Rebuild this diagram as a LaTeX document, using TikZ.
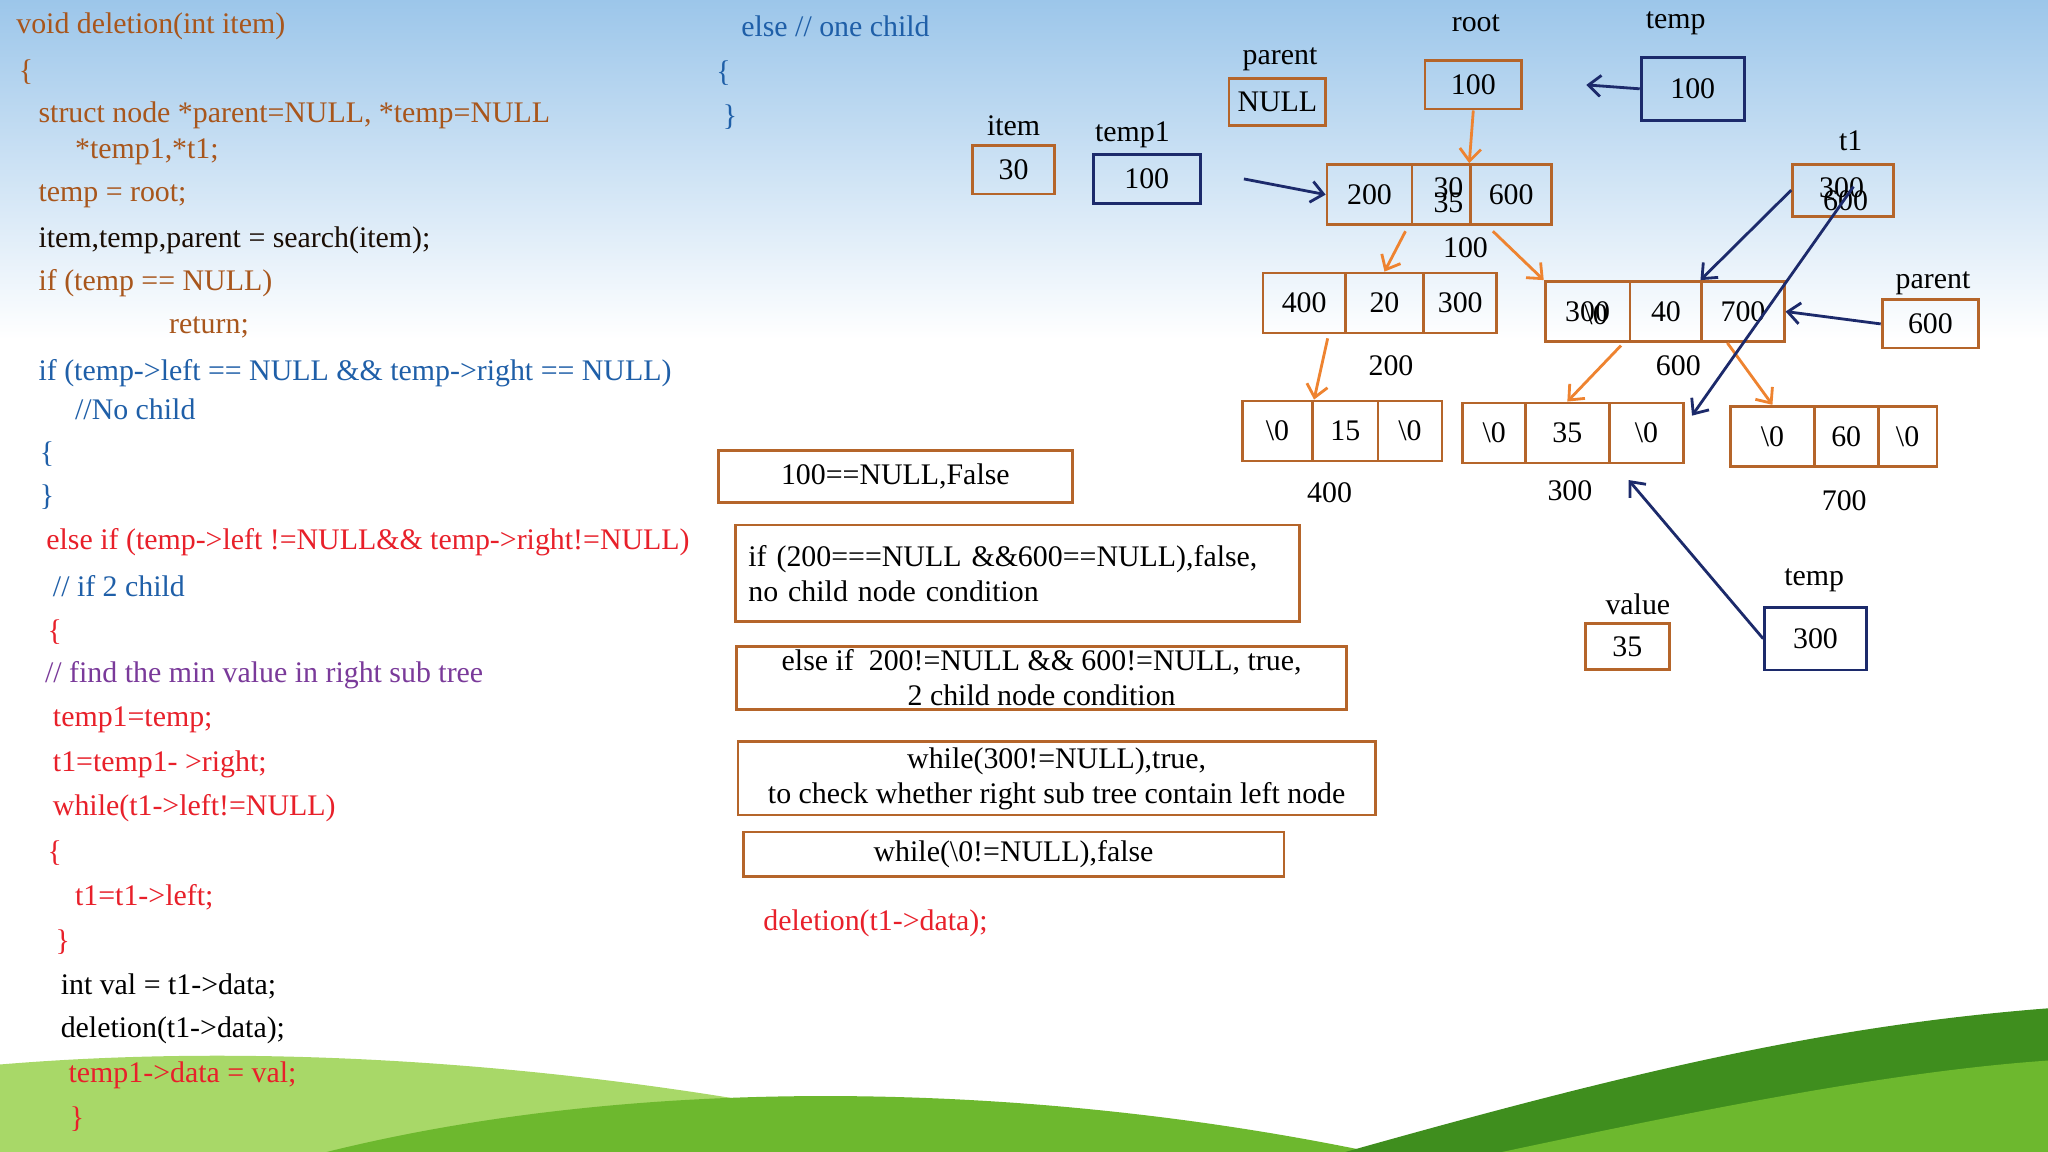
\documentclass[tikz,border=0pt]{standalone}
\usepackage{fontspec}
\setmainfont{Liberation Serif}
\usetikzlibrary{arrows.meta,positioning}
\definecolor{boxbrown}{HTML}{B5652A}
\definecolor{arrorange}{HTML}{EE8330}
\definecolor{navy}{HTML}{1C2A6B}
\definecolor{codebrown}{HTML}{A8561C}
\definecolor{codeblue}{HTML}{1F5FA8}
\definecolor{codered}{HTML}{E8202A}
\definecolor{codepurple}{HTML}{7A3A9A}
\definecolor{skyblue}{HTML}{9CC6EA}
\definecolor{hillgreen}{HTML}{6DB82E}
\definecolor{hilllight}{HTML}{A8D868}
\definecolor{hilldark}{HTML}{3F8E1E}
\begin{document}
\begin{tikzpicture}[x=0.01306cm,y=-0.01306cm,font=\fontsize{8.5}{10}\selectfont]
    \tikzstyle{code} = [anchor=west, inner sep=0pt]
    \tikzstyle{box} = [rectangle, draw=boxbrown, thick, inner sep=0pt]
    \tikzstyle{cell} = [box, minimum height=0.6cm]
    \tikzstyle{lbl} = [inner sep=0pt]
    \tikzstyle{oline} = [draw=arrorange, thick, -{Straight Barb[length=3.5pt,width=6pt]}]
    \tikzstyle{nline} = [draw=navy, thick, -{Straight Barb[length=3.5pt,width=6pt]}]

    % background
    \useasboundingbox (0,0) rectangle (1568,882);
    \fill[white] (0,0) rectangle (1568,882);
    \shade[top color=skyblue, bottom color=white] (0,0) rectangle (1568,260);
    \fill[hilllight] (0,815) .. controls (300,790) and (600,840) .. (760,882) -- (0,882) -- cycle;
    \fill[hillgreen] (250,882) .. controls (500,820) and (800,830) .. (1050,882) -- cycle;
    \fill[hilldark] (1030,882) .. controls (1250,820) and (1400,785) .. (1568,772) -- (1568,882) -- cycle;
    \fill[hillgreen] (1150,882) .. controls (1300,850) and (1450,820) .. (1568,812) -- (1568,882) -- cycle;

    % code listing
    \node[code, codebrown] (c1) at (12,20) {void deletion(int item)};
    \node[code, codebrown] (c2) at (14,55) {\{};
    \node[code, codebrown] (c3) at (29,88) {struct node *parent=NULL, *temp=NULL};
    \node[code, codebrown] (c4) at (57,116) {*temp1,*t1;};
    \node[code, codebrown] (c5) at (29,150) {temp = root;};
    \node[code, black!85!codebrown] (c6) at (29,184) {item,temp,parent = search(item);};
    \node[code, codebrown] (c7) at (29,217) {if (temp == NULL)};
    \node[code, codebrown] (c8) at (129,251) {return;};
    \node[code, codeblue] (c9) at (29,286) {if (temp->left == NULL \&\& temp->right == NULL)};
    \node[code, codeblue] (c10) at (57,313) {//No child};
    \node[code, codeblue] (c11) at (30,348) {\{};
    \node[code, codeblue] (c12) at (30,381) {\}};
    \node[code, codered] (c13) at (35,415) {else if (temp->left !=NULL\&\& temp->right!=NULL)};
    \node[code, codeblue] (c14) at (40,449) {// if 2 child};
    \node[code, codered] (c15) at (36,484) {\{};
    \node[code, codepurple] (c16) at (34,517) {// find the min value in right sub tree};
    \node[code, codered] (c17) at (40,551) {temp1=temp;};
    \node[code, codered] (c18) at (40,585) {t1=temp1- >right;};
    \node[code, codered] (c19) at (40,619) {while(t1->left!=NULL)};
    \node[code, codered] (c20) at (36,653) {\{};
    \node[code, codered] (c21) at (57,687) {t1=t1->left;};
    \node[code, codered] (c22) at (42,721) {\}};
    \node[code, black] (c23) at (46,755) {int val = t1->data;};
    \node[code, black] (c24) at (46,789) {deletion(t1->data);};
    \node[code, codered] (c25) at (52,823) {temp1->data = val;};
    \node[code, codered] (c26) at (53,857) {\}};
    \node[code, codeblue] (c27) at (567,20) {else // one child};
    \node[code, codeblue] (c28) at (548,56) {\{};
    \node[code, codeblue] (c29) at (553,90) {\}};
    \node[code, codered] (c30) at (584,707) {deletion(t1->data);};

    % condition boxes
    \node[box, minimum width=271*0.01306cm, minimum height=40*0.01306cm] (b1) at (685.5,365) {100==NULL,False};
    \node[box, minimum width=432*0.01306cm, minimum height=74*0.01306cm, align=left, text width=412*0.01306cm] (b2) at (779,439) {if (200===NULL \&\&600==NULL),false,\\no child node condition};
    \node[box, minimum width=467*0.01306cm, minimum height=48*0.01306cm, align=center] (b3) at (797.5,519) {else if\ \ 200!=NULL \&\& 600!=NULL, true,\\2 child node condition};
    \node[box, minimum width=488*0.01306cm, minimum height=56*0.01306cm, align=center] (b4) at (809,596) {while(300!=NULL),true,\\to check whether right sub tree contain left node};
    \node[box, minimum width=414*0.01306cm, minimum height=34*0.01306cm] (b5) at (776,654) {while(\textbackslash 0!=NULL),false};

    % pointer variables
    \node[lbl] (lparent) at (980,45) {parent};
    \node[box, minimum width=74*0.01306cm, minimum height=36*0.01306cm] (parentbox) at (978,78) {NULL};
    \node[lbl] (lroot) at (1130,18) {root};
    \node[box, minimum width=74*0.01306cm, minimum height=37*0.01306cm] (rootbox) at (1128,65) {100};
    \node[lbl] (ltemp) at (1283,18) {temp};
    \node[box, minimum width=79*0.01306cm, minimum height=48*0.01306cm, draw=navy] (tempbox) at (1296,68) {100};
    \node[lbl] (litem) at (776,96) {item};
    \node[box, minimum width=63*0.01306cm, minimum height=37*0.01306cm] (itembox) at (776,130) {30};
    \node[lbl] (ltempone) at (867,103) {temp1};
    \node[box, minimum width=82*0.01306cm, minimum height=38*0.01306cm, draw=navy] (temponebox) at (878,137) {100};
    \node[lbl] (ltone) at (1417,108) {t1};
    \node[box, minimum width=77*0.01306cm, minimum height=40*0.01306cm] (tonebox) at (1411,146) {};
    \node[lbl] at (1410,144) {300};
    \node[lbl] at (1413,154) {600};
    \draw[black, thin] (1398,151) -- (1404,152);
    \node[lbl] (lparenttwo) at (1480,217) {parent};
    \node[box, minimum width=74*0.01306cm, minimum height=37*0.01306cm] (parenttwobox) at (1478,248) {600};
    \node[lbl] (lvalue) at (1254,463) {value};
    \node[box, minimum width=64*0.01306cm, minimum height=35*0.01306cm] (valuebox) at (1246,495) {35};
    \node[lbl] (ltemptwo) at (1389,444) {temp};
    \node[box, minimum width=78*0.01306cm, minimum height=48*0.01306cm, draw=navy] (temptwobox) at (1390,489) {300};

    % tree nodes
    \node[cell, minimum width=65*0.01306cm] (nAl) at (1048.5,149) {200};
    \node[cell, minimum width=45*0.01306cm] (nAm) at (1103.5,149) {};
    \node[lbl] at (1109,144) {30};
    \node[lbl] at (1109,155) {35};
    \node[cell, minimum width=62*0.01306cm] (nAr) at (1157,149) {600};
    \node[lbl] (lnA) at (1122,190) {100};

    \node[cell, minimum width=63*0.01306cm] (nBl) at (998.5,232) {400};
    \node[cell, minimum width=60*0.01306cm] (nBm) at (1060,232) {20};
    \node[cell, minimum width=56*0.01306cm] (nBr) at (1118,232) {300};
    \node[lbl] (lnB) at (1065,280) {200};

    \node[cell, minimum width=65*0.01306cm] (nCl) at (1215.5,238.5) {300};
    \node[lbl] at (1222,241) {\textbackslash 0};
    \node[cell, minimum width=55*0.01306cm] (nCm) at (1275.5,238.5) {40};
    \node[cell, minimum width=63*0.01306cm] (nCr) at (1334.5,238.5) {700};
    \node[lbl] (lnC) at (1285,280) {600};

    \node[cell, minimum width=54*0.01306cm] (nDl) at (978,330) {\textbackslash 0};
    \node[cell, minimum width=50*0.01306cm] (nDm) at (1030,330) {15};
    \node[cell, minimum width=49*0.01306cm] (nDr) at (1079.5,330) {\textbackslash 0};
    \node[lbl] (lnD) at (1018,377) {400};

    \node[cell, minimum width=48*0.01306cm] (nEl) at (1144,331.5) {\textbackslash 0};
    \node[cell, minimum width=64*0.01306cm] (nEm) at (1200,331.5) {35};
    \node[cell, minimum width=57*0.01306cm] (nEr) at (1260.5,331.5) {\textbackslash 0};
    \node[lbl] (lnE) at (1202,376) {300};

    \node[cell, minimum width=64*0.01306cm] (nFl) at (1357,334) {\textbackslash 0};
    \node[cell, minimum width=49*0.01306cm] (nFm) at (1413.5,334) {60};
    \node[cell, minimum width=45*0.01306cm] (nFr) at (1460.5,334) {\textbackslash 0};
    \node[lbl] (lnF) at (1412,383) {700};

    % links
    \draw[oline] (rootbox.south) -- (nAr.north west);
    \draw[oline] (nAl.south east) ++(-6,4) coordinate (a1) (a1) -- (nBm.north);
    \draw[oline] (nAr.south) ++(-14,4) coordinate (a2) (a2) -- (nCl.north west);
    \draw[oline] (nBl.south) ++(18,3) coordinate (a3) (a3) -- (nDl.north east);
    \draw[oline] (nCl.south east) ++(-8,2) coordinate (a4) (a4) -- (nEm.north);
    \draw[oline] (nCr.south) ++(-12,0) coordinate (a5) (a5) -- (nFl.north);

    % pointers
    \path (nEr.south west) ++(16,12) coordinate (p1);
    \draw[nline] (tempbox.west) -- ([xshift=18]rootbox.east);
    \draw[nline] ([xshift=12]temponebox.east) -- (nAl.west);
    \draw[nline] ([yshift=8]tonebox.south west) -- (nCr.north west);
    \draw[nline] ([xshift=3,yshift=9]tonebox.south) -- ([xshift=2,yshift=-4]nEr.north east);
    \draw[nline] (parenttwobox.west) -- (nCr.east);
    \draw[nline] (temptwobox.west) -- (p1);
\end{tikzpicture}
\end{document}
